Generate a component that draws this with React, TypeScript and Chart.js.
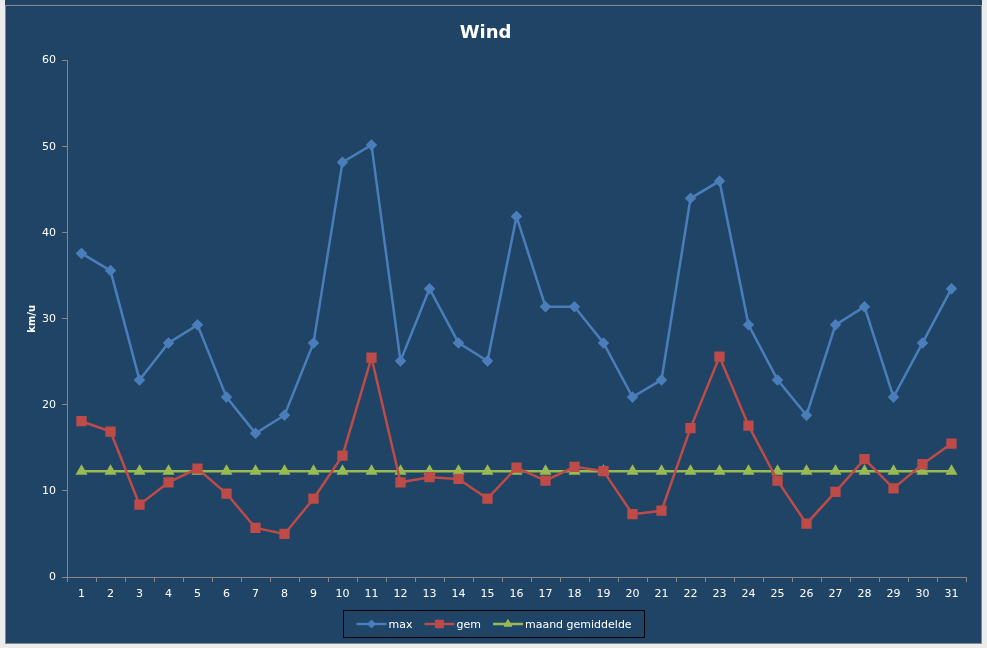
import { useEffect, useRef } from "react"
import Chart from 'chart.js/auto';
import { drawPoint } from 'chart.js/helpers';

const days = ['1','2','3','4','5','6','7','8','9','10','11','12','13','14','15','16','17','18','19','20','21','22','23','24','25','26','27','28','29','30','31'];
const maxWind = [37.6, 35.6, 22.9, 27.2, 29.3, 20.9, 16.7, 18.8, 27.2, 48.2, 50.2, 25.1, 33.5, 27.2, 25.1, 41.9, 31.4, 31.4, 27.2, 20.9, 22.9, 44.0, 46.0, 29.3, 22.9, 18.8, 29.3, 31.4, 20.9, 27.2, 33.5];
const gemWind = [18.1, 16.9, 8.4, 11.0, 12.6, 9.7, 5.7, 5.0, 9.1, 14.1, 25.5, 11.0, 11.6, 11.4, 9.1, 12.7, 11.2, 12.8, 12.3, 7.3, 7.7, 17.3, 25.6, 17.6, 11.2, 6.2, 9.9, 13.7, 10.3, 13.1, 15.5];
const maandGem = [12.3, 12.3, 12.3, 12.3, 12.3, 12.3, 12.3, 12.3, 12.3, 12.3, 12.3, 12.3, 12.3, 12.3, 12.3, 12.3, 12.3, 12.3, 12.3, 12.3, 12.3, 12.3, 12.3, 12.3, 12.3, 12.3, 12.3, 12.3, 12.3, 12.3, 12.3];
const yTicks = [0, 10, 20, 30, 40, 50, 60];

const BG = '#1f4466';
const AXIS = '#878787';
const FONT = "'DejaVu Sans', sans-serif";

// legend drawn Excel style: line with marker in the middle, inside a black box
const excelLegend = {
    id: 'excelLegend',
    afterDraw(chart: any) {
        const ctx = chart.ctx;
        ctx.save();
        ctx.font = `11px ${FONT}`;
        const lineW = 30, gap = 2, spacing = 12;
        const items = chart.data.datasets.map((ds: any) => ({
            ds,
            w: lineW + gap + ctx.measureText(ds.label).width
        }));
        const total = items.reduce((a: number, it: any) => a + it.w, 0) + spacing * (items.length - 1);
        const padX = 13;
        const boxW = Math.round(total + padX * 2);
        const boxX = Math.round((chart.width - boxW) / 2) + 0.5;
        const boxY = 610.5, boxH = 27;
        ctx.strokeStyle = '#000000';
        ctx.lineWidth = 1;
        ctx.strokeRect(boxX, boxY, boxW, boxH);
        const cy = boxY + boxH / 2;
        let x = boxX + padX;
        items.forEach((it: any) => {
            const ds = it.ds;
            ctx.strokeStyle = ds.borderColor;
            ctx.lineWidth = 2.5;
            ctx.beginPath();
            ctx.moveTo(x, cy);
            ctx.lineTo(x + lineW, cy);
            ctx.stroke();
            ctx.fillStyle = ds.borderColor;
            ctx.lineWidth = 1;
            drawPoint(ctx, {
                pointStyle: ds.pointStyle,
                radius: ds.pointRadius,
                rotation: 0,
                borderWidth: 1
            } as any, x + lineW / 2, cy);
            ctx.fillStyle = '#ffffff';
            ctx.textBaseline = 'middle';
            ctx.textAlign = 'left';
            ctx.fillText(ds.label, x + lineW + gap, cy + 1);
            x += it.w + spacing;
        });
        ctx.restore();
    }
};

export default function App() {
    const canvasRef = useRef<HTMLCanvasElement>(null);

    useEffect(() => {
        const ctx = canvasRef.current;
        if (!ctx) return;

        const ds = (label: string, data: number[], color: string, style: string, r: number) => ({
            label,
            data,
            borderColor: color,
            backgroundColor: color,
            pointBackgroundColor: color,
            pointBorderColor: color,
            pointStyle: style,
            pointRadius: r,
            pointHoverRadius: r,
            borderWidth: 2.5,
            tension: 0
        });

        const myChart = new Chart(ctx, {
            type: 'line',
            data: {
                labels: days,
                datasets: [
                    ds('max', maxWind, '#4a7ebb', 'rectRot', 4),
                    ds('gem', gemWind, '#be4b48', 'rect', 5.5),
                    ds('maand gemiddelde', maandGem, '#98b954', 'triangle', 4.5)
                ] as any
            },
            options: {
                animation: false,
                responsive: false,
                layout: { padding: { left: 0, right: 16, top: 0, bottom: 0 } },
                plugins: {
                    legend: { display: false },
                    tooltip: { enabled: false },
                    title: {
                        display: true,
                        text: 'Wind',
                        color: '#ffffff',
                        font: { family: FONT, size: 18, weight: 'bold' },
                        padding: { top: 23, bottom: 16 }
                    }
                },
                scales: {
                    x: {
                        offset: true,
                        grid: { drawOnChartArea: false, drawTicks: true, tickLength: 5, color: AXIS, offset: true },
                        border: { color: AXIS, width: 1 },
                        ticks: { color: '#ffffff', font: { family: FONT, size: 11 }, padding: 6, maxRotation: 0, autoSkip: false },
                        afterFit: (s: any) => { s.height = 67; }
                    },
                    y: {
                        min: 0,
                        max: 60,
                        afterBuildTicks: (s: any) => { s.ticks = yTicks.map(v => ({ value: v })); },
                        grid: { drawOnChartArea: false, drawTicks: true, tickLength: 5, color: AXIS },
                        border: { color: AXIS, width: 1 },
                        ticks: { color: '#ffffff', font: { family: FONT, size: 11 }, padding: 6 },
                        title: {
                            display: true,
                            text: 'km/u',
                            color: '#ffffff',
                            font: { family: FONT, size: 10, weight: 'bold' },
                            padding: { top: 21, bottom: 0 }
                        },
                        afterFit: (s: any) => { s.width = 62; }
                    }
                }
            },
            plugins: [excelLegend]
        });

        return () => {
            myChart.destroy();
        };
    }, []);

    return (
        <div style={{ position: 'fixed', left: 0, top: 0, width: 987, height: 648, background: '#ececec' }}>
            <div style={{ position: 'absolute', left: 5, top: 0, width: 977, height: 644, background: BG }}>
                <canvas ref={canvasRef} width={977} height={644} style={{ display: 'block' }}></canvas>
                <div style={{ position: 'absolute', left: 0, top: 5, width: 975, height: 637, border: `1px solid ${AXIS}`, pointerEvents: 'none' }}></div>
            </div>
        </div>
    );
}
